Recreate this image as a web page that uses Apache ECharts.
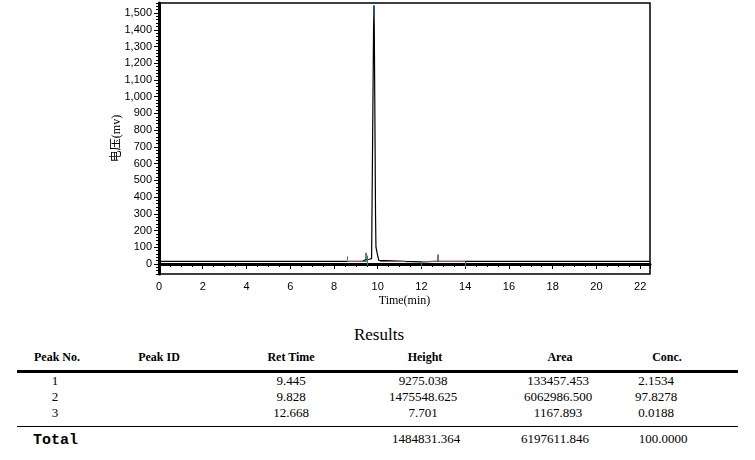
<!DOCTYPE html>
<html>
<head>
<meta charset="utf-8" />
<title>Chromatogram</title>
<script src="https://cdn.jsdelivr.net/npm/echarts@6.0.0/dist/echarts.min.js"></script>
<style>
  body { margin: 0; background: #fff; }
  #wrap { position: relative; width: 755px; height: 460px; overflow: hidden; }
  #main { position: absolute; left: 0; top: 0; width: 755px; height: 318px; }
  .t { position: absolute; white-space: nowrap; color: #000; transform: translate(-50%, -50%); }
  .hd { font: bold 12px "Liberation Serif", serif; }
  .v { font: 13px "Liberation Serif", serif; }
  .rule { position: absolute; background: #000; }
</style>
</head>
<body>
<div id="wrap">
  <div id="main"></div>
</div>
<script type="text/javascript">
// trace (time in min, signal in mV)
var traceTime = [0, 8.6, 9.3, 9.42, 9.47, 9.6, 9.72, 9.78, 9.81, 9.828, 9.845, 9.87, 9.9, 9.92, 9.94, 9.98, 10.05, 10.1, 11.25, 11.26, 12.0, 12.01, 12.6, 12.668, 12.74, 14, 22.45];
var traceMv =   [15, 15, 16, 24, 26, 28, 32, 40, 1400, 1545, 1380, 900, 300, 100, 95, 60, 22, 15, 15, 13, 13, 15, 15, 22, 15, 15, 15];

// integration baselines (start time, end time, level)
var baseStart = [8.6, 10.1, 12.0];
var baseEnd = [9.45, 11.25, 14.0];
var baseLevel = [15, 15, 15];

// event markers: time, low, high
var greenTime = [8.6, 9.5, 12.0, 14.0];
var greenLo = [21, -10, -18, -18];
var greenHi = [45, 50, 12, 12];
var blueTime = [9.445, 12.74, 9.835];
var blueLo = [13, 13, 1480];
var blueHi = [67, 56, 1545];

var yTicks = [0, 100, 200, 300, 400, 500, 600, 700, 800, 900, 1000, 1100, 1200, 1300, 1400, 1500];

// results table
var headers = ['Peak No.', 'Peak ID', 'Ret Time', 'Height', 'Area', 'Conc.'];
var peakNo = ['1', '2', '3'];
var peakId = ['', '', ''];
var retTime = ['9.445', '9.828', '12.668'];
var heights = ['9275.038', '1475548.625', '7.701'];
var areas = ['133457.453', '6062986.500', '1167.893'];
var concs = ['2.1534', '97.8278', '0.0188'];
var totalRow = ['Total', '1484831.364', '6197611.846', '100.0000'];

var myChart = echarts.init(document.getElementById('main'), null, { renderer: 'canvas' });

function pairs(xs, ys) {
  return xs.map(function (x, i) { return [x, ys[i]]; });
}
function vmarks(ts, lo, hi) {
  return ts.map(function (t, i) { return [{ coord: [t, lo[i]] }, { coord: [t, hi[i]] }]; });
}
var baseSegs = baseStart.map(function (s, i) {
  return [{ coord: [s, baseLevel[i]] }, { coord: [baseEnd[i], baseLevel[i]] }];
});

var tickFont = { fontFamily: 'Liberation Sans, Arial, sans-serif', fontSize: 11, color: '#000' };

var option = {
  animation: false,
  grid: { left: 159, top: 3, width: 491, height: 271, show: true, borderColor: '#000', borderWidth: 1.5 },
  xAxis: {
    type: 'value', min: 0, max: 22.45, interval: 2,
    name: 'Time(min)', nameLocation: 'middle', nameGap: 21, nameMoveOverlap: false,
    nameTextStyle: { fontFamily: 'Liberation Serif, serif', fontSize: 12, color: '#000' },
    axisLine: { lineStyle: { color: '#000', width: 3 } },
    axisTick: { length: 5, lineStyle: { color: '#000' } },
    minorTick: { show: true, splitNumber: 4, length: 3, lineStyle: { color: '#000' } },
    axisLabel: Object.assign({ margin: 7, formatter: function (v) { return v % 2 === 0 ? String(v) : ''; } }, tickFont),
    splitLine: { show: false }
  },
  yAxis: [
    {
      type: 'value', min: -60, max: 1560,
      name: '电压(mv)', nameLocation: 'middle', nameGap: 36, nameMoveOverlap: false,
      nameTextStyle: { fontFamily: 'Liberation Serif, Noto Sans CJK SC, serif', fontSize: 12, color: '#000' },
      axisLine: { show: true, lineStyle: { color: '#000', width: 3 } },
      axisTick: { show: true, length: 5, customValues: yTicks, lineStyle: { color: '#000' } },
      axisLabel: Object.assign({ margin: 7, customValues: yTicks, formatter: function (v) { return v.toLocaleString('en-US'); } }, tickFont),
      splitLine: { show: false }
    },
    {
      type: 'value', min: -60, max: 1560, interval: 20, position: 'left',
      axisLine: { show: false },
      axisTick: { show: true, length: 3, lineStyle: { color: '#000' } },
      axisLabel: { show: false },
      splitLine: { show: false }
    }
  ],
  series: [
    {
      type: 'line', yAxisIndex: 0, showSymbol: false, symbol: 'none',
      data: pairs(traceTime, traceMv),
      lineStyle: { color: '#000', width: 1.2 },
      markLine: {
        silent: true, symbol: 'none', label: { show: false },
        lineStyle: { color: '#9b5a5a', width: 1, type: 'solid' },
        data: baseSegs
      }
    },
    {
      type: 'line', yAxisIndex: 0, data: [], symbol: 'none',
      markLine: {
        silent: true, symbol: 'none', label: { show: false },
        lineStyle: { color: '#2e8b3a', width: 1, type: 'solid' },
        data: vmarks(greenTime, greenLo, greenHi)
      }
    },
    {
      type: 'line', yAxisIndex: 0, data: [], symbol: 'none',
      markLine: {
        silent: true, symbol: 'none', label: { show: false },
        lineStyle: { color: '#1f4f8f', width: 1.5, type: 'solid' },
        data: vmarks(blueTime, blueLo, blueHi)
      }
    }
  ]
};
myChart.setOption(option);

// results table under the chart
var wrap = document.getElementById('wrap');
function addText(txt, x, y, cls, extra) {
  var d = document.createElement('div');
  d.className = 't ' + cls;
  d.textContent = txt;
  d.style.left = x + 'px';
  d.style.top = y + 'px';
  if (extra) Object.assign(d.style, extra);
  wrap.appendChild(d);
}
function addRule(x, y, w, h) {
  var d = document.createElement('div');
  d.className = 'rule';
  d.style.left = x + 'px'; d.style.top = y + 'px';
  d.style.width = w + 'px'; d.style.height = h + 'px';
  wrap.appendChild(d);
}
addText('Results', 379, 335, 'v', { fontSize: '17px' });
var headX = [57, 159, 291, 425, 560, 667];
headers.forEach(function (h, i) { addText(h, headX[i], 357, 'hd'); });
addRule(17, 370, 721, 3);
var colX = [55, 159, 291, 423, 558, 656];
var rowY = [381, 397, 413];
var cols = [peakNo, peakId, retTime, heights, areas, concs];
cols.forEach(function (col, c) {
  col.forEach(function (val, r) { addText(val, colX[c], rowY[r], 'v'); });
});
addRule(17, 426, 721, 1);
addText(totalRow[0], 33, 440, 'v', { transform: 'translate(0,-50%)', font: 'bold 15px "Liberation Mono", monospace' });
addText(totalRow[1], 426, 439, 'v');
addText(totalRow[2], 555, 439, 'v');
addText(totalRow[3], 663, 439, 'v');
</script>
</body>
</html>
